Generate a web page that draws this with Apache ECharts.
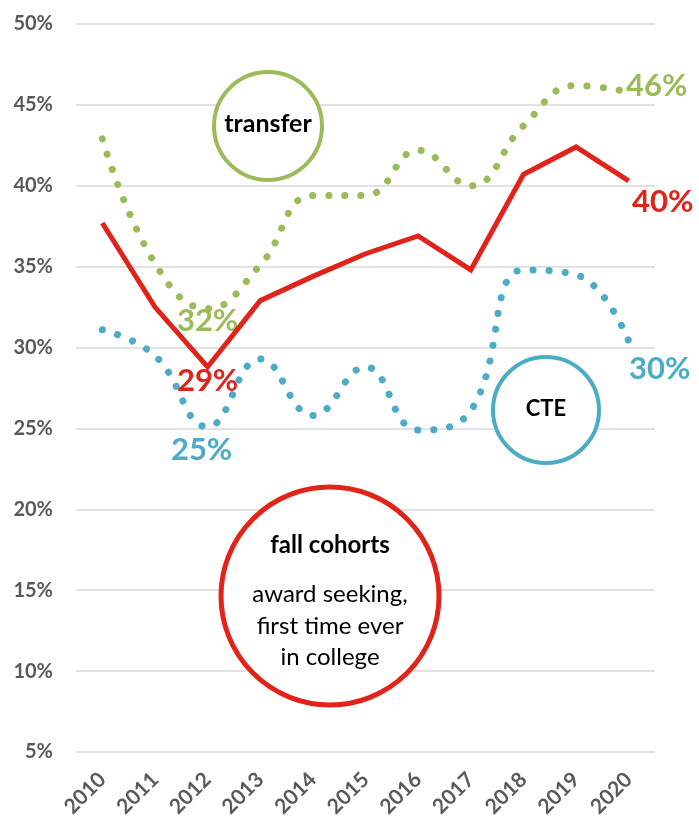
<!DOCTYPE html>
<html>
<head>
<meta charset="utf-8">
<script src="https://cdn.jsdelivr.net/npm/echarts@6/dist/echarts.min.js"></script>
<style>
html,body{margin:0;padding:0;background:#fff;}
#main{width:699px;height:824px;}
</style>
</head>
<body>
<div id="main"></div>
<script>
var years = ['2010', '2011', '2012', '2013', '2014', '2015', '2016', '2017', '2018', '2019', '2020'];
var allRates = [37.7, 32.5, 28.8, 32.9, 34.4, 35.8, 36.9, 34.8, 40.7, 42.4, 40.3];
var transferRates = [42.9, 35.2, 32.4, 35.1, 39.4, 39.4, 42.2, 40.0, 43.7, 46.2, 45.8];
var cteRates = [31.1, 29.5, 25.1, 29.3, 25.8, 28.8, 24.9, 26.1, 34.8, 34.5, 30.4];
var yTicks = [5, 10, 15, 20, 25, 30, 35, 40, 45, 50];

(function(){
    var el = document.getElementById('main');
    var myChart = echarts.init(el);
    var font = 'Lato, "Open Sans", sans-serif';
    var green = '#9bbb59', red = '#e2231a', blue = '#4bacc6';

    // label only at the 2012 low point and the last year
    var withLabels = function (values, color, lowOffset, endOffset) {
        return values.map(function (v, i) {
            var item = { value: v };
            if (i === 2 || i === values.length - 1) {
                item.label = {
                    show: true,
                    position: 'inside',
                    offset: i === 2 ? lowOffset : endOffset,
                    formatter: Math.round(v) + '%',
                    color: color,
                    fontFamily: font,
                    fontWeight: 'bold',
                    fontSize: 31
                };
            }
            return item;
        });
    };

    var dots = { width: 7, type: [0.1, 16], cap: 'round' };

    var option = {
        animation: false,
        backgroundColor: '#fff',
        grid: { left: 76, right: 44, top: 24, bottom: 72, containLabel: false },
        xAxis: {
            type: 'category',
            data: years,
            boundaryGap: true,
            axisLine: { show: false },
            axisTick: { show: false },
            axisLabel: {
                rotate: 45,
                margin: 24,
                color: '#595959',
                fontFamily: font,
                fontWeight: 'bold',
                fontSize: 21
            }
        },
        yAxis: {
            type: 'value',
            min: yTicks[0],
            max: yTicks[yTicks.length - 1],
            interval: 5,
            axisLine: { show: false },
            axisTick: { show: false },
            axisLabel: {
                margin: 23,
                formatter: '{value}%',
                color: '#595959',
                fontFamily: font,
                fontWeight: 'bold',
                fontSize: 20
            },
            splitLine: { lineStyle: { color: '#d9d9d9', width: 1.5 } }
        },
        series: [
            {
                name: 'CTE',
                type: 'line',
                smooth: 0.45,
                symbol: 'circle',
                symbolSize: 0,
                showSymbol: true,
                z: 2,
                lineStyle: Object.assign({ color: blue }, dots),
                data: withLabels(cteRates, blue, [-6, 23], [31, 28])
            },
            {
                name: 'transfer',
                type: 'line',
                smooth: 0.45,
                symbol: 'circle',
                symbolSize: 0,
                showSymbol: true,
                z: 3,
                lineStyle: Object.assign({ color: green }, dots),
                data: withLabels(transferRates, green, [0, 12], [28, -6])
            },
            {
                name: 'all',
                type: 'line',
                symbol: 'circle',
                symbolSize: 0,
                showSymbol: true,
                z: 4,
                lineStyle: { color: red, width: 5, join: 'miter' },
                data: withLabels(allRates, red, [0, 14], [34, 21])
            }
        ],
        graphic: [
            {
                type: 'circle', z: 10,
                shape: { cx: 268, cy: 126, r: 54 },
                style: { fill: '#fff', stroke: green, lineWidth: 4 }
            },
            {
                type: 'text', z: 11, x: 268, y: 124,
                style: { text: 'transfer', fill: '#000', font: 'bold 25px ' + font, align: 'center', verticalAlign: 'middle' }
            },
            {
                type: 'circle', z: 10,
                shape: { cx: 546, cy: 410, r: 53 },
                style: { fill: '#fff', stroke: blue, lineWidth: 4 }
            },
            {
                type: 'text', z: 11, x: 546, y: 409,
                style: { text: 'CTE', fill: '#000', font: 'bold 22px ' + font, align: 'center', verticalAlign: 'middle' }
            },
            {
                type: 'circle', z: 10,
                shape: { cx: 330, cy: 596, r: 109 },
                style: { fill: '#fff', stroke: red, lineWidth: 5 }
            },
            {
                type: 'text', z: 11, x: 330, y: 545,
                style: { text: 'fall cohorts', fill: '#000', font: 'bold 24px ' + font, align: 'center', verticalAlign: 'middle' }
            },
            {
                type: 'text', z: 11, x: 330, y: 626,
                style: {
                    text: 'award seeking,\nfirst time ever\nin college',
                    fill: '#000', font: '24px ' + font, lineHeight: 31.5,
                    align: 'center', verticalAlign: 'middle'
                }
            }
        ]
    };
    myChart.setOption(option);
    window.addEventListener('resize', function(){
        myChart.resize();
    });
})();
</script>
</body>
</html>
